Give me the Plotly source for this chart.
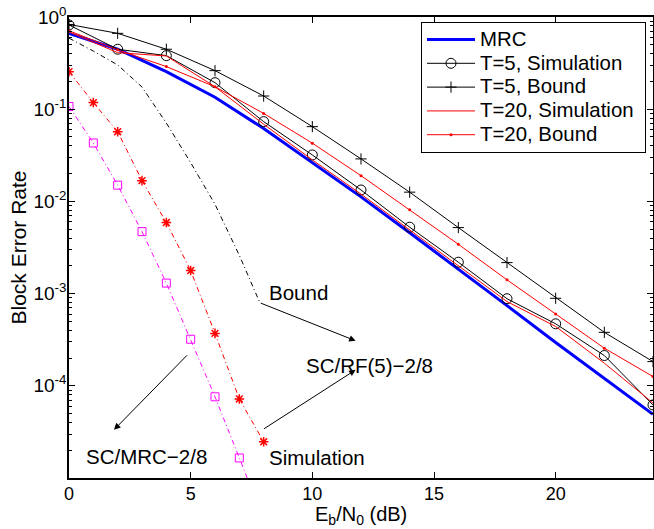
import plotly.graph_objects as go

# ---------------- data ----------------
snr_even = [0, 2, 4, 6, 8, 10, 12, 14, 16, 18, 20, 22, 24]

mrc = [0.665, 0.447, 0.255, 0.135, 0.0617, 0.0263, 0.0112, 4.57e-3, 1.86e-3,
       7.4e-4, 2.95e-4, 1.2e-4, 4.9e-5]
t5_sim = [0.82, 0.447, 0.381, 0.194, 0.0733, 0.0319, 0.0133, 5.25e-3, 2.19e-3,
          8.8e-4, 4.7e-4, 2.13e-4, 6.2e-5]
t5_bound = [0.83, 0.665, 0.447, 0.262, 0.139, 0.0647, 0.0289, 0.0126, 5.2e-3,
            2.17e-3, 8.9e-4, 3.8e-4, 1.83e-4]
t20_sim = [0.69, 0.41, 0.378, 0.175, 0.0687, 0.0282, 0.012, 4.9e-3, 2.0e-3,
           8.2e-4, 4.4e-4, 1.76e-4, 6.5e-5]
t20_bound = [0.71, 0.44, 0.29, 0.175, 0.090, 0.0428, 0.019, 8.1e-3, 3.43e-3,
             1.41e-3, 6.0e-4, 2.56e-4, 1.26e-4]

sc_bound_x = [0, 1, 2, 3, 4, 5, 6, 7, 7.85]
sc_bound_y = [0.59, 0.427, 0.302, 0.174, 0.0708, 0.0263, 9.3e-3, 2.6e-3, 7.9e-4]

sc_rf_x = [0, 1, 2, 3, 4, 5, 6, 7, 8]
sc_rf_y = [0.255, 0.118, 0.057, 0.0168, 5.9e-3, 1.78e-3, 3.7e-4, 7.2e-5, 2.47e-5]

sc_mrc_x = [0, 1, 2, 3, 4, 5, 6, 7, 8]
sc_mrc_y = [0.107, 0.043, 0.015, 4.7e-3, 1.3e-3, 3.2e-4, 7.6e-5, 1.65e-5, 3.5e-6]

x_ticks = [0, 5, 10, 15, 20]
y_ticks = [1, 0.1, 0.01, 1e-3, 1e-4]
y_tick_text = ["10<sup>0</sup>", "10<sup>-1</sup>", "10<sup>-2</sup>",
               "10<sup>-3</sup>", "10<sup>-4</sup>"]

FONT = "Liberation Sans, Arial, Helvetica, sans-serif"
DASHDOT = "5px,3px,1px,3px"


def big(s):
    return '<span style="font-size:20.4px">' + s + '&nbsp;</span>'


fig = go.Figure()

fig.add_trace(go.Scatter(x=snr_even, y=mrc, name=big("MRC"), mode="lines",
                         line=dict(color="#0000ff", width=3)))
fig.add_trace(go.Scatter(x=snr_even, y=t5_sim, name=big("T=5, Simulation"), mode="lines+markers",
                         line=dict(color="black", width=1),
                         marker=dict(symbol="circle-open", size=10, color="black",
                                     line=dict(width=1, color="black"))))
fig.add_trace(go.Scatter(x=snr_even, y=t5_bound, name=big("T=5, Bound"), mode="lines+markers",
                         line=dict(color="black", width=1),
                         marker=dict(symbol="cross-thin-open", size=8, color="black",
                                     line=dict(width=1, color="black"))))
fig.add_trace(go.Scatter(x=snr_even, y=t20_sim, name=big("T=20, Simulation"), mode="lines",
                         line=dict(color="#ff0000", width=1)))
fig.add_trace(go.Scatter(x=snr_even, y=t20_bound, name=big("T=20, Bound"), mode="lines+markers",
                         line=dict(color="#ff0000", width=1),
                         marker=dict(symbol="circle", size=3, color="#ff0000")))

fig.add_trace(go.Scatter(x=sc_bound_x, y=sc_bound_y, mode="lines", showlegend=False,
                         line=dict(color="black", width=1, dash=DASHDOT)))
fig.add_trace(go.Scatter(x=sc_rf_x, y=sc_rf_y, mode="lines+markers", showlegend=False,
                         line=dict(color="#ff0000", width=1, dash=DASHDOT),
                         marker=dict(symbol="asterisk-open", size=8, color="#ff0000",
                                     line=dict(width=1.5, color="#ff0000"))))
fig.add_trace(go.Scatter(x=sc_mrc_x, y=sc_mrc_y, mode="lines+markers", showlegend=False,
                         line=dict(color="#ff00ff", width=1, dash=DASHDOT),
                         marker=dict(symbol="square-open", size=8, color="#ff00ff",
                                     line=dict(width=1, color="#ff00ff"))))

# arrows (log axis: y in log10 units)
arrows = [
    (11.78, -3.512, 7.82, -3.097),
    (11.78, -3.827, 7.95, -4.477),
    (1.85, -4.477, 4.91, -3.653),
]
for hx, hy, tx, ty in arrows:
    fig.add_annotation(x=hx, y=hy, ax=tx, ay=ty, xref="x", yref="y", axref="x", ayref="y",
                       text="", showarrow=True, arrowhead=2, arrowsize=1.3, arrowwidth=1,
                       arrowcolor="black")

labels = [
    ("Bound", 8.23, -2.99),
    ("SC/RF(5)−2/8", 9.73, -3.783),
    ("Simulation", 8.23, -4.773),
    ("SC/MRC−2/8", 0.70, -4.766),
]
for txt, lx, ly in labels:
    fig.add_annotation(x=lx, y=ly, xref="x", yref="y", text=txt, showarrow=False,
                       xanchor="left", yanchor="middle", xshift=-2,
                       font=dict(family=FONT, size=20.5, color="black"))

# x-axis title
fig.add_annotation(x=0.5, y=0, xref="paper", yref="paper", yanchor="top", yshift=-23,
                   text="E<sub>b</sub>/N<sub>0</sub> (dB)", showarrow=False,
                   font=dict(family=FONT, size=20, color="black"))

fig.update_layout(
    width=654, height=529,
    margin=dict(l=69, r=1, t=17, b=51),
    paper_bgcolor="white", plot_bgcolor="white",
    font=dict(family=FONT, size=20, color="black"),
    showlegend=True,
    legend=dict(x=0.988, y=0.99, xanchor="right", yanchor="top",
                bgcolor="white", bordercolor="black", borderwidth=1,
                font=dict(family=FONT, size=16, color="black"),
                tracegroupgap=0, itemwidth=48),
)

fig.update_xaxes(
    range=[0, 24], tickvals=x_ticks, ticks="inside", ticklen=6, tickwidth=1,
    tickcolor="black", showline=True, linecolor="black", linewidth=1.5, mirror="ticks",
    showgrid=False, zeroline=False, automargin=False,
    tickfont=dict(family=FONT, size=18), ticklabelstandoff=-1,
)

minor_vals = [k * 10 ** e for e in range(-5, 0) for k in range(2, 10)]
fig.update_yaxes(
    type="log", range=[-5, 0], tickvals=y_ticks, ticktext=y_tick_text,
    ticks="inside", ticklen=6, tickwidth=1, tickcolor="black",
    minor=dict(tickvals=minor_vals, ticks="inside", ticklen=3, tickcolor="black", showgrid=False),
    showline=True, linecolor="black", linewidth=1.5, mirror="ticks",
    showgrid=False, zeroline=False, automargin=False,
    tickfont=dict(family=FONT, size=19), ticklabelstandoff=-3,
    title=dict(text="Block Error Rate", font=dict(family=FONT, size=21), standoff=1),
)

fig.write_html("out.html", config={"displayModeBar": False},
               post_script="document.body.style.margin='0px';")
